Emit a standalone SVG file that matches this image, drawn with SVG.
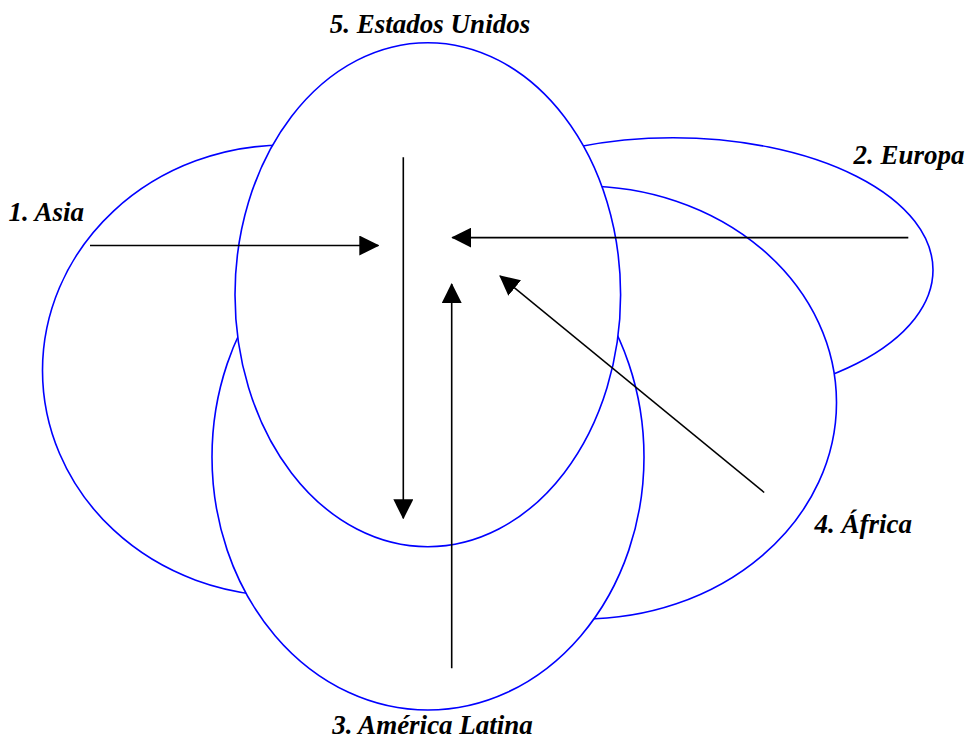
<svg xmlns="http://www.w3.org/2000/svg" width="968" height="740" viewBox="0 0 968 740">
  <defs>
    <marker id="head" markerUnits="userSpaceOnUse" markerWidth="20" markerHeight="20" refX="19" refY="10" orient="auto">
      <path d="M0,0 L20,10 L0,20 z" fill="#000"/>
    </marker>
    <style>
      .region { fill: #fff; stroke: #0000ff; stroke-width: 1.6; }
      .label { font-family: "Liberation Serif", "Times New Roman", serif; font-weight: bold; font-style: italic; font-size: 27px; fill: #000; }
      .flow { stroke: #000; stroke-width: 1.6; fill: none; marker-end: url(#head); }
    </style>
  </defs>
  <rect width="968" height="740" fill="#fff"/>
  <g id="asia">
    <ellipse class="region" cx="285" cy="370.5" rx="242.5" ry="225.5"/>
  </g>
  <g id="europa">
    <ellipse class="region" cx="673" cy="270" rx="260" ry="132.3"/>
  </g>
  <g id="africa">
    <ellipse class="region" cx="583" cy="402.5" rx="253.5" ry="216.5"/>
  </g>
  <g id="america-latina">
    <ellipse class="region" cx="428" cy="457" rx="216" ry="253"/>
  </g>
  <g id="estados-unidos">
    <ellipse class="region" cx="427.8" cy="294.7" rx="192.8" ry="252"/>
  </g>
  <g id="connectors">
    <line class="flow" x1="90" y1="245.5" x2="378.3" y2="245.5"/>
    <line class="flow" x1="908.3" y1="237.6" x2="452.3" y2="237.6"/>
    <line class="flow" x1="403.3" y1="157.3" x2="403.3" y2="518.3"/>
    <line class="flow" x1="451.7" y1="668.3" x2="451.7" y2="284"/>
    <line class="flow" x1="764.2" y1="492.5" x2="500" y2="276"/>
  </g>
  <g id="labels">
    <text class="label" x="430" y="32.7" text-anchor="middle">5. Estados Unidos</text>
    <text class="label" x="8.5" y="220.7">1. Asia</text>
    <text class="label" x="853.5" y="164">2. Europa</text>
    <text class="label" x="814.5" y="532.7">4. África</text>
    <text class="label" x="432.5" y="734" text-anchor="middle">3. América Latina</text>
  </g>
</svg>
